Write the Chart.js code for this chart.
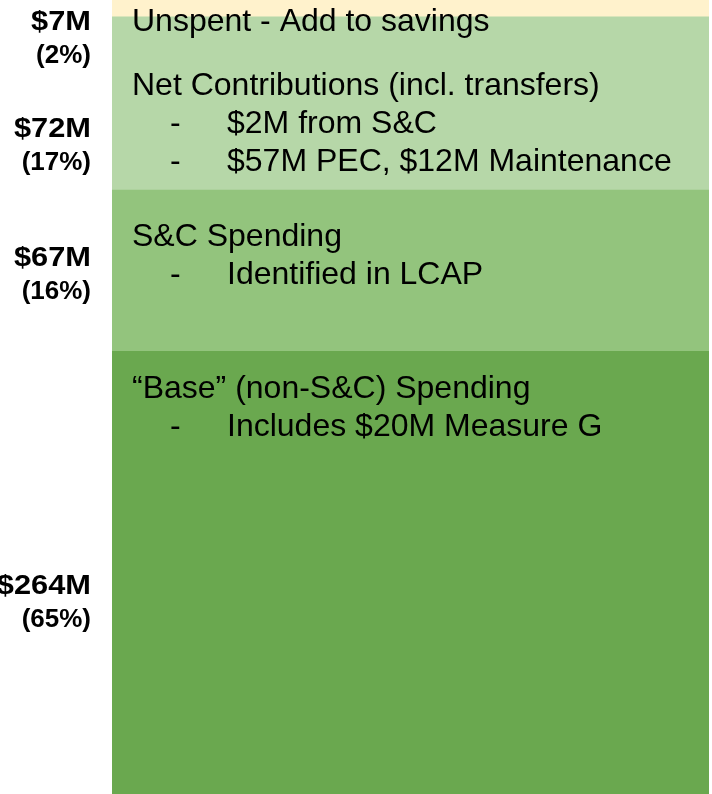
<!DOCTYPE html>
<html>
<head>
<meta charset="utf-8">
<script src="https://cdn.jsdelivr.net/npm/chart.js@4.4.0/dist/chart.umd.min.js"></script>
<style>
  html, body { margin: 0; padding: 0; background: #fff; }
  #wrap { width: 712px; height: 794px; }
</style>
</head>
<body>
<div id="wrap"><canvas id="mycanvas" width="712" height="794"></canvas></div>
<script>
// segments, bottom of the stack first
var segments = ['Base', 'S&C Spending', 'Net Contributions', 'Unspent'];
var amounts = [264, 67, 72, 7];          // $M
var shares = ['(65%)', '(16%)', '(17%)', '(2%)'];
var amountLabels = ['$264M', '$67M', '$72M', '$7M'];
var headings = [
  '\u201CBase\u201D (non-S&C) Spending',
  'S&C Spending',
  'Net Contributions (incl. transfers)',
  'Unspent - Add to savings'
];
var bullets = [
  ['Includes $20M Measure G'],
  ['Identified in LCAP'],
  ['$2M from S&C', '$57M PEC, $12M Maintenance'],
  []
];
var colors = ['#6AA84F', '#93C47D', '#B6D7A8', '#FFF2CC'];

var datasets = [];
for (var i = 0; i < segments.length; i++) {
  datasets.push({
    label: segments[i],
    data: [amounts[i]],
    backgroundColor: colors[i],
    borderWidth: 0,
    barPercentage: 1,
    categoryPercentage: 1
  });
}

// where the text sits, from the top of each segment (bottom first, like the data)
var textTop = [38, 47, 69, 22];
var labelTop = [235, 68, 112, 22];
var lineGap = 38;

var notesPlugin = {
  id: 'notes',
  afterDatasetsDraw: function(chart) {
    var ctx = chart.ctx;
    var area = chart.chartArea;
    ctx.save();
    ctx.fillStyle = '#000';
    ctx.textBaseline = 'middle';
    for (var i = 0; i < segments.length; i++) {
      var el = chart.getDatasetMeta(i).data[0];
      var top = Math.max(area.top, Math.min(el.y, el.base));
      var x0 = area.left;

      // text inside the block
      ctx.textAlign = 'left';
      ctx.font = '32px "Liberation Sans", Arial, sans-serif';
      var y = top + textTop[i];
      ctx.fillText(headings[i], x0 + 20, y);
      for (var b = 0; b < bullets[i].length; b++) {
        y += lineGap;
        ctx.fillText('-', x0 + 58, y);
        ctx.fillText(bullets[i][b], x0 + 115, y);
      }

      // amount + share on the left
      ctx.textAlign = 'right';
      var ly = top + labelTop[i];
      ctx.save();
      ctx.translate(x0 - 21, ly);
      ctx.scale(1.1, 1);
      ctx.font = 'bold 28px "Liberation Sans", Arial, sans-serif';
      ctx.fillText(amountLabels[i], 0, 0);
      ctx.restore();
      ctx.font = 'bold 26px "Liberation Sans", Arial, sans-serif';
      ctx.fillText(shares[i], x0 - 21, ly + 34);
    }
    ctx.restore();
  }
};

var ctx = document.getElementById('mycanvas');
var barGraph = new Chart(ctx, {
  type: 'bar',
  data: { labels: ['Budget'], datasets: datasets },
  options: {
    responsive: false,
    animation: false,
    layout: { padding: { left: 112, right: 3, top: 0, bottom: 0 } },
    plugins: { legend: { display: false }, tooltip: { enabled: false } },
    scales: {
      x: { stacked: true, display: false },
      y: { stacked: true, display: false, min: 80, max: 410 }
    }
  },
  plugins: [notesPlugin]
});
</script>
</body>
</html>
